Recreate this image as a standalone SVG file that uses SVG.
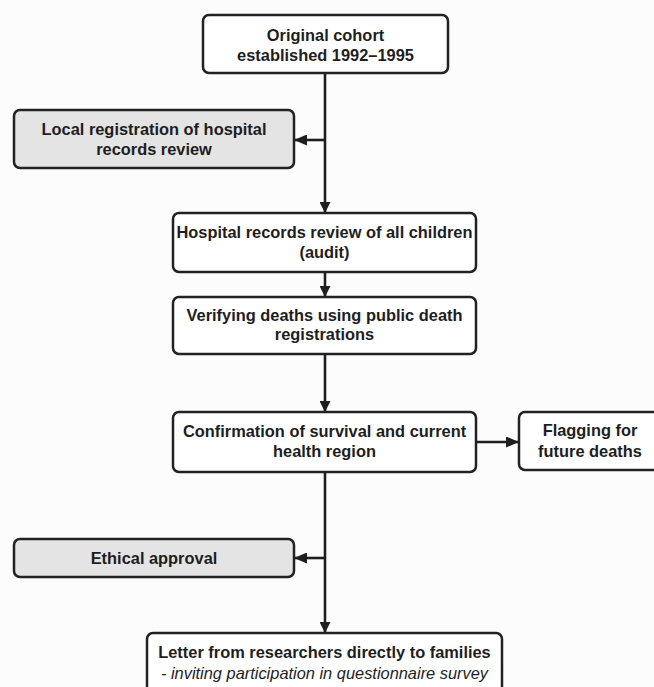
<svg xmlns="http://www.w3.org/2000/svg" width="654" height="687" viewBox="0 0 654 687">
<defs>
<style>
.box{fill:#ffffff;stroke:#222;stroke-width:2.5}
.gray{fill:#e4e4e4;stroke:#222;stroke-width:2.5}
.t{font-family:"Liberation Sans",Arial,sans-serif;font-size:16.4px;font-weight:bold;fill:#1e1e1e;text-anchor:middle}
.it{font-family:"Liberation Sans",Arial,sans-serif;font-size:16.4px;font-style:italic;fill:#1e1e1e;text-anchor:middle}
.ln{fill:none;stroke:#1e1e1e;stroke-width:2.6}
</style>
<marker id="ah" viewBox="0 0 11 11" refX="11" refY="5.5" markerWidth="11" markerHeight="11" markerUnits="userSpaceOnUse" orient="auto">
<path d="M0,0 L11,5.5 L0,11 Z" fill="#1e1e1e"/>
</marker>
<marker id="ahw" viewBox="0 0 13 11" refX="13" refY="5.5" markerWidth="13" markerHeight="11" markerUnits="userSpaceOnUse" orient="auto">
<path d="M0,0 L13,5.5 L0,11 Z" fill="#1e1e1e"/>
</marker>
</defs>
<rect width="654" height="687" fill="#fcfcfc"/>
<g id="connectors">
<line class="ln" x1="325" y1="73" x2="325" y2="213" marker-end="url(#ah)"/>
<line class="ln" x1="325" y1="140" x2="294" y2="140" marker-end="url(#ahw)"/>
<line class="ln" x1="325" y1="272" x2="325" y2="297" marker-end="url(#ah)"/>
<line class="ln" x1="325" y1="354" x2="325" y2="412" marker-end="url(#ah)"/>
<line class="ln" x1="476" y1="442" x2="519" y2="442" marker-end="url(#ahw)"/>
<line class="ln" x1="325" y1="472" x2="325" y2="633" marker-end="url(#ah)"/>
<line class="ln" x1="325" y1="558" x2="294" y2="558" marker-end="url(#ahw)"/>
</g>
<g id="n-original">
<rect class="box" x="203" y="15" width="245" height="58" rx="6"/>
<text class="t" x="325.5" y="41">Original cohort</text>
<text class="t" x="325.5" y="61">established 1992–1995</text>
</g>
<g id="n-local">
<rect class="gray" x="14" y="110" width="280" height="58" rx="6"/>
<text class="t" x="154" y="135">Local registration of hospital</text>
<text class="t" x="154" y="155">records review</text>
</g>
<g id="n-hospital">
<rect class="box" x="173" y="213" width="303" height="59" rx="6"/>
<text class="t" x="324.5" y="238">Hospital records review of all children</text>
<text class="t" x="324.5" y="258">(audit)</text>
</g>
<g id="n-verify">
<rect class="box" x="173" y="297" width="303" height="57" rx="6"/>
<text class="t" x="324.5" y="321">Verifying deaths using public death</text>
<text class="t" x="324.5" y="340">registrations</text>
</g>
<g id="n-confirm">
<rect class="box" x="173" y="412" width="303" height="60" rx="6"/>
<text class="t" x="324.5" y="437">Confirmation of survival and current</text>
<text class="t" x="324.5" y="457">health region</text>
</g>
<g id="n-flag">
<rect class="box" x="519" y="412" width="145" height="58" rx="6"/>
<text class="t" x="590" y="436">Flagging for</text>
<text class="t" x="590" y="457">future deaths</text>
</g>
<g id="n-ethical">
<rect class="gray" x="14" y="539" width="280" height="38" rx="6"/>
<text class="t" x="154" y="564">Ethical approval</text>
</g>
<g id="n-letter">
<rect class="box" x="147" y="633" width="355" height="70" rx="6"/>
<text class="t" x="324.5" y="658">Letter from researchers directly to families</text>
<text class="it" x="324.5" y="679">- inviting participation in questionnaire survey</text>
</g>
</svg>
